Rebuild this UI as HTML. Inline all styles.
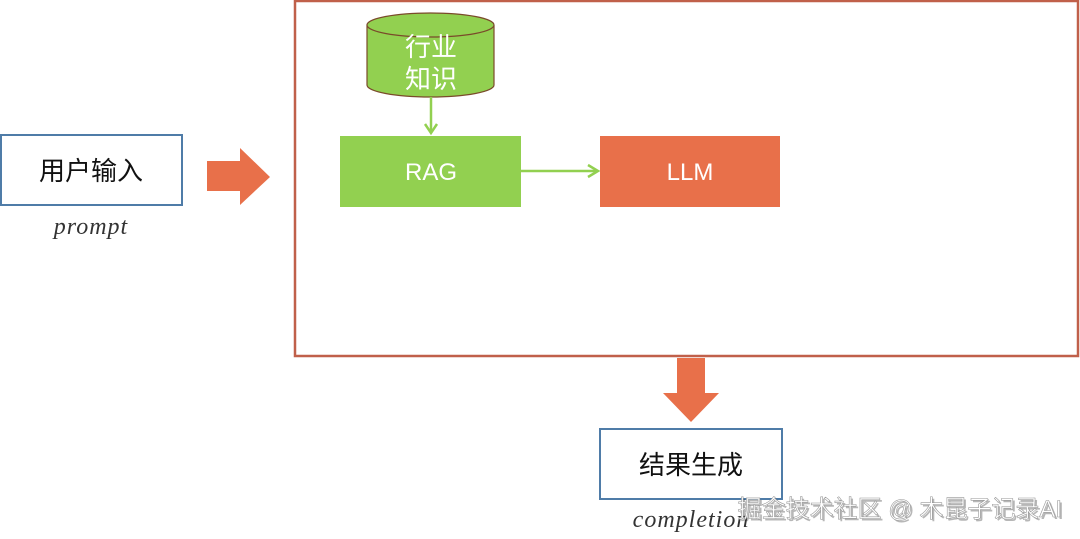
<!DOCTYPE html>
<html><head><meta charset="utf-8"><style>
html,body{margin:0;padding:0;background:#fff;}
svg{display:block;}
</style></head><body>
<svg width="1080" height="539" viewBox="0 0 1080 539" xmlns="http://www.w3.org/2000/svg">
<rect x="295" y="1" width="783" height="355" fill="#fff" stroke="#c0604a" stroke-width="2.5"/>
<path d="M367,25 L367,85 A63.5,12 0 0 0 494,85 L494,25" fill="#92d050" stroke="#7a4a2a" stroke-width="1.2"/>
<ellipse cx="430.5" cy="25" rx="63.5" ry="12" fill="#92d050" stroke="#7a4a2a" stroke-width="1.2"/>
<text x="431" y="56" font-family="Liberation Sans, Noto Sans CJK SC, sans-serif" font-size="26" fill="#fff" text-anchor="middle">行业</text>
<text x="431" y="88" font-family="Liberation Sans, Noto Sans CJK SC, sans-serif" font-size="26" fill="#fff" text-anchor="middle">知识</text>
<line x1="431" y1="97" x2="431" y2="132" stroke="#92d050" stroke-width="2.5"/>
<polyline points="425,124 431,133 437,124" fill="none" stroke="#92d050" stroke-width="2.5"/>
<rect x="340" y="136" width="181" height="71" fill="#92d050"/>
<text x="431" y="180" font-family="Liberation Sans, sans-serif" font-size="24" fill="#fff" text-anchor="middle">RAG</text>
<line x1="521" y1="171" x2="597" y2="171" stroke="#92d050" stroke-width="2.5"/>
<polyline points="588,165 598,171 588,177" fill="none" stroke="#92d050" stroke-width="2.5"/>
<rect x="600" y="136" width="180" height="71" fill="#e8704a"/>
<text x="690" y="180" font-family="Liberation Sans, sans-serif" font-size="24" fill="#fff" text-anchor="middle">LLM</text>
<rect x="1" y="135" width="181" height="70" fill="#fff" stroke="#4f7ca8" stroke-width="2"/>
<text x="91" y="180" font-family="Liberation Sans, Noto Sans CJK SC, sans-serif" font-size="26" fill="#111" text-anchor="middle">用户输入</text>
<text x="91" y="234" font-family="Liberation Serif, serif" font-style="italic" font-size="24" fill="#333" text-anchor="middle" letter-spacing="1">prompt</text>
<polygon points="207,161 240,161 240,148 270,177 240,205 240,191 207,191" fill="#e8704a"/>
<polygon points="677,358 705,358 705,393 719,393 691,422 663,393 677,393" fill="#e8704a"/>
<rect x="600" y="429" width="182" height="70" fill="#fff" stroke="#4f7ca8" stroke-width="2"/>
<text x="691" y="474" font-family="Liberation Sans, Noto Sans CJK SC, sans-serif" font-size="26" fill="#111" text-anchor="middle">结果生成</text>
<text x="691" y="527" font-family="Liberation Serif, serif" font-style="italic" font-size="24" fill="#333" text-anchor="middle" letter-spacing="1">completion</text>
<text x="1063" y="518" font-family="Liberation Sans, Noto Sans CJK SC, sans-serif" font-size="24" fill="#333" text-anchor="end" opacity="0.35" transform="translate(1,1)">掘金技术社区 @ 木昆子记录AI</text>
<text x="1062" y="517" font-family="Liberation Sans, Noto Sans CJK SC, sans-serif" font-size="24" fill="#fff" stroke="#999" stroke-width="0.6" text-anchor="end">掘金技术社区 @ 木昆子记录AI</text>
</svg>
</body></html>
